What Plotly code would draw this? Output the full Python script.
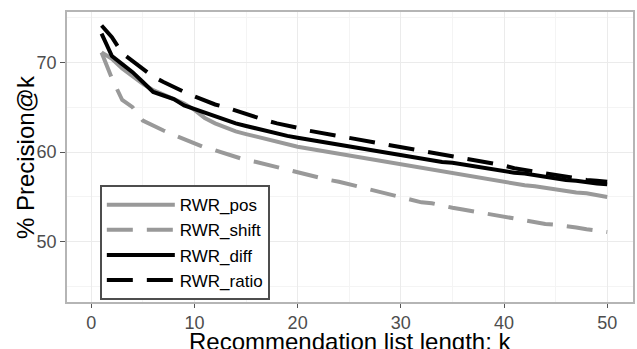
import plotly.graph_objects as go

k = list(range(1, 51))

rwr_pos = [71.1, 70.4, 69.3, 68.4, 67.6, 66.9, 66.4, 66.0, 65.4, 64.7,
           63.8, 63.2, 62.7, 62.3, 62.0, 61.7, 61.5, 61.2, 60.9, 60.6,
           60.4, 60.2, 60.0, 59.8, 59.6, 59.4, 59.2, 59.0, 58.8, 58.6,
           58.4, 58.2, 58.0, 57.8, 57.6, 57.4, 57.2, 57.0, 56.9, 56.7,
           56.5, 56.3, 56.2, 56.0, 55.8, 55.7, 55.5, 55.4, 55.2, 55.0]

rwr_shift = [71.1, 68.2, 65.8, 65.0, 63.5, 62.9, 62.4, 61.9, 61.4, 61.0,
             60.5, 60.2, 59.8, 59.4, 59.1, 58.9, 58.6, 58.3, 58.1, 57.8,
             57.5, 57.2, 56.9, 56.7, 56.4, 56.1, 55.8, 55.5, 55.3, 55.0,
             54.7, 54.4, 54.3, 54.0, 53.8, 53.6, 53.4, 53.2, 53.0, 52.8,
             52.5, 52.3, 52.1, 52.0, 51.9, 51.8, 51.6, 51.4, 51.2, 51.1]

rwr_diff = [73.2, 70.7, 69.8, 68.9, 67.8, 66.7, 66.3, 65.9, 65.2, 64.8,
            64.3, 63.9, 63.5, 63.2, 62.9, 62.6, 62.3, 62.0, 61.8, 61.6,
            61.4, 61.2, 61.0, 60.8, 60.6, 60.4, 60.2, 60.0, 59.8, 59.7,
            59.5, 59.3, 59.1, 58.9, 58.8, 58.6, 58.4, 58.3, 58.1, 57.9,
            57.7, 57.6, 57.4, 57.2, 57.1, 56.9, 56.8, 56.6, 56.5, 56.4]

rwr_ratio = [74.1, 72.8, 71.0, 70.1, 69.2, 68.4, 67.8, 67.2, 66.7, 66.2,
             65.7, 65.3, 65.0, 64.6, 64.3, 63.9, 63.5, 63.2, 63.0, 62.7,
             62.4, 62.2, 62.0, 61.7, 61.5, 61.3, 61.1, 60.9, 60.7, 60.5,
             60.3, 60.1, 59.9, 59.7, 59.5, 59.3, 59.1, 58.9, 58.7, 58.5,
             58.2, 58.0, 57.8, 57.6, 57.4, 57.2, 57.1, 56.9, 56.8, 56.7]

series_names = ["RWR_pos", "RWR_shift", "RWR_diff", "RWR_ratio"]
series_values = [rwr_pos, rwr_shift, rwr_diff, rwr_ratio]
series_colors = ["#999999", "#999999", "#000000", "#000000"]
series_dash = ["solid", "26px,14px", "solid", "26px,14px"]

x_ticks = [0, 10, 20, 30, 40, 50]
y_ticks = [50, 60, 70]
x_title = "Recommendation list length: k"
y_title = "% Precision@k"

fig = go.Figure()
for name, vals, col, dash in zip(series_names, series_values, series_colors, series_dash):
    fig.add_trace(go.Scatter(x=k, y=vals, mode="lines", name=name,
                             line=dict(color=col, width=4, dash=dash)))

FONT = "Liberation Sans, Arial, sans-serif"
fig.update_layout(
    width=637, height=349,
    margin=dict(l=67, r=4, t=12, b=47),
    paper_bgcolor="white", plot_bgcolor="white",
    font=dict(family=FONT, color="#333333"),
    showlegend=True,
    legend=dict(x=0.058, y=0.403, xanchor="left", yanchor="top",
                bgcolor="white", bordercolor="#4d4d4d", borderwidth=2,
                font=dict(size=17, color="#000000", family=FONT),
                itemwidth=68, tracegroupgap=0, entrywidth=190),
    annotations=[
        dict(text=x_title, xref="paper", yref="paper", x=0.5, y=-0.135,
             xanchor="center", yanchor="middle", showarrow=False,
             font=dict(size=24, color="#000000", family=FONT)),
        dict(text=y_title, xref="paper", yref="paper", x=-0.074, y=0.5,
             xanchor="center", yanchor="middle", textangle=-90, showarrow=False,
             font=dict(size=24, color="#000000", family=FONT)),
    ],
)
fig.update_xaxes(
    automargin=False,
    range=[-2.35, 52.5], tickvals=x_ticks, ticktext=[str(v) for v in x_ticks],
    showgrid=True, gridcolor="#ebebeb", gridwidth=1,
    minor=dict(dtick=5, tick0=0, showgrid=True, gridcolor="#f4f4f4", gridwidth=1),
    ticks="outside", ticklen=4, tickcolor="#555555", tickwidth=1,
    tickfont=dict(size=18, color="#4d4d4d"),
    showline=True, linecolor="#b5b5b5", linewidth=1.5, mirror=True, zeroline=False,
)
fig.update_yaxes(
    automargin=False,
    range=[43.3, 75.6], tickvals=y_ticks, ticktext=[str(v) for v in y_ticks],
    showgrid=True, gridcolor="#ebebeb", gridwidth=1,
    minor=dict(dtick=5, tick0=0, showgrid=True, gridcolor="#f4f4f4", gridwidth=1),
    ticks="outside", ticklen=5, tickcolor="#555555", tickwidth=1,
    tickfont=dict(size=18, color="#4d4d4d"),
    showline=True, linecolor="#b5b5b5", linewidth=1.5, mirror=True, zeroline=False,
)

fig.write_html("out.html", config={"displayModeBar": False},
               post_script="document.body.style.margin='0';document.body.style.overflow='hidden';")
